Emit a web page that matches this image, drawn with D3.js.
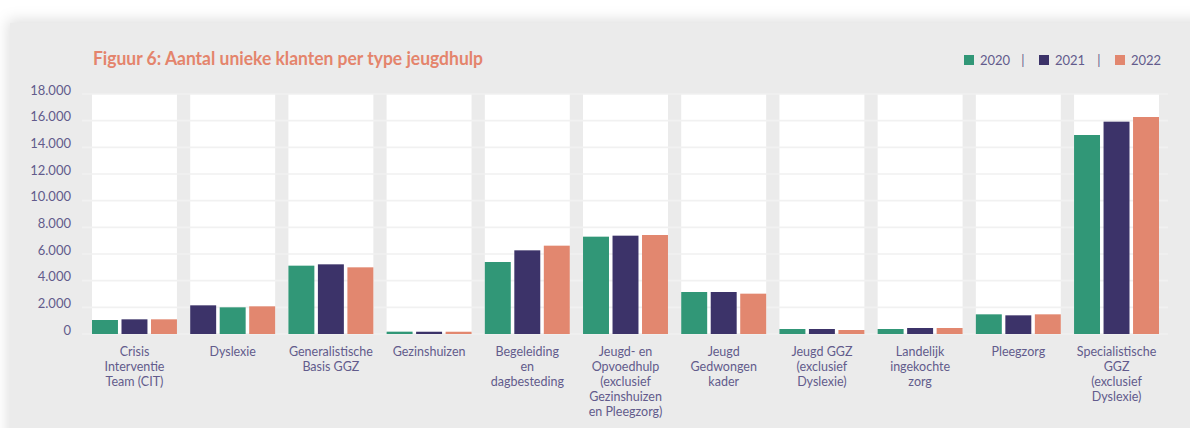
<!DOCTYPE html>
<html>
<head>
<meta charset="utf-8">
<script src="https://cdn.jsdelivr.net/npm/d3@7"></script>
<style>
  body { margin: 0; background: #ffffff; }
  svg text { font-family: Lato, "Open Sans", sans-serif; }
</style>
</head>
<body>
<div id="chart"></div>
<script>
// data
var categories = [
    "Crisis\nInterventie\nTeam (CIT)",
    "Dyslexie",
    "Generalistische\nBasis GGZ",
    "Gezinshuizen",
    "Begeleiding\nen\ndagbesteding",
    "Jeugd- en\nOpvoedhulp\n(exclusief\nGezinshuizen\nen Pleegzorg)",
    "Jeugd\nGedwongen\nkader",
    "Jeugd GGZ\n(exclusief\nDyslexie)",
    "Landelijk\ningekochte\nzorg",
    "Pleegzorg",
    "Specialistische\nGGZ\n(exclusief\nDyslexie)"
];
var years = ["2020", "2021", "2022"];
var values2020 = [1050, 2000, 5125, 175, 5400, 7300, 3150, 375, 375, 1475, 14925];
var values2021 = [1100, 2150, 5225, 170, 6275, 7375, 3150, 375, 450, 1400, 15925];
var values2022 = [1100, 2075, 5000, 170, 6625, 7425, 3025, 300, 450, 1475, 16275];
// the figure draws Dyslexie with the 2021 bar first
var barOrder = [[0,1,2],[1,0,2],[0,1,2],[0,1,2],[0,1,2],[0,1,2],[0,1,2],[0,1,2],[0,1,2],[0,1,2],[0,1,2]];
var yTicks = [0, 2000, 4000, 6000, 8000, 10000, 12000, 14000, 16000, 18000];
var colors = ["#319777", "#3c3369", "#e2876f"];

var series = [values2020, values2021, values2022];
var textColor = "#625b8c";

var width = 1190, height = 428;
var plot = { left: 92, right: 1159, top: 94, bottom: 334 };

var svg = d3.select("#chart").append("svg")
    .attr("width", width)
    .attr("height", height);

var defs = svg.append("defs");
var shadow = defs.append("filter")
    .attr("id", "shadow")
    .attr("x", "-5%").attr("y", "-20%")
    .attr("width", "110%").attr("height", "140%");
shadow.append("feDropShadow")
    .attr("dx", -2).attr("dy", -3)
    .attr("stdDeviation", 7)
    .attr("flood-color", "#000")
    .attr("flood-opacity", 0.13);

// panel
svg.append("rect")
    .attr("x", 10).attr("y", 23)
    .attr("width", width + 20).attr("height", height)
    .attr("fill", "#ebebeb")
    .attr("filter", "url(#shadow)");

var x = d3.scaleBand()
    .domain(d3.range(categories.length))
    .range([plot.left, plot.right])
    .paddingInner(0.135)
    .paddingOuter(0);

var xInner = d3.scaleBand()
    .domain([0, 1, 2])
    .range([0, x.bandwidth()])
    .paddingInner(0.12);

var y = d3.scaleLinear()
    .domain([0, 18000])
    .range([plot.bottom, plot.top]);

// white columns behind each group
svg.append("g").selectAll("rect")
    .data(categories)
    .enter()
    .append("rect")
    .attr("x", function(d, i) { return x(i); })
    .attr("y", y(18000))
    .attr("width", x.bandwidth())
    .attr("height", y(0) - y(18000))
    .attr("fill", "#ffffff");

// gridlines
svg.append("g").selectAll("line")
    .data(yTicks)
    .enter()
    .append("line")
    .attr("x1", 82)
    .attr("x2", 1168)
    .attr("y1", function(d) { return y(d); })
    .attr("y2", function(d) { return y(d); })
    .attr("stroke", "#f1f1f1")
    .attr("stroke-width", 1.6);

// y axis labels
var nl = d3.formatLocale({ decimal: ",", thousands: ".", grouping: [3], currency: ["€", ""] });
var yAxis = d3.axisLeft(y)
    .tickValues(yTicks)
    .tickSize(0)
    .tickPadding(11)
    .tickFormat(nl.format(",d"));

var yG = svg.append("g")
    .attr("transform", "translate(82,-4)")
    .call(yAxis);
yG.select(".domain").remove();
yG.selectAll("text")
    .attr("fill", textColor)
    .style("font-size", "13px")
    .style("font-family", "Lato, sans-serif");

// bars
var groups = svg.append("g").selectAll("g")
    .data(categories)
    .enter()
    .append("g")
    .attr("transform", function(d, i) { return "translate(" + x(i) + ",0)"; });

groups.selectAll("rect")
    .data(function(d, i) {
        return barOrder[i].map(function(s, pos) {
            return { pos: pos, s: s, value: series[s][i] };
        });
    })
    .enter()
    .append("rect")
    .attr("x", function(d) { return xInner(d.pos); })
    .attr("y", function(d) { return y(d.value); })
    .attr("width", xInner.bandwidth())
    .attr("height", function(d) { return y(0) - y(d.value); })
    .attr("fill", function(d) { return colors[d.s]; });

// x axis labels
var xAxis = d3.axisBottom(x)
    .tickSize(0)
    .tickFormat("");
var xG = svg.append("g")
    .attr("transform", "translate(0," + plot.bottom + ")")
    .call(xAxis);
xG.select(".domain").remove();
xG.selectAll(".tick").append("text")
    .attr("text-anchor", "middle")
    .attr("fill", textColor)
    .style("font-size", "12.5px")
    .each(function(i) {
        var lines = categories[i].split("\n");
        var t = d3.select(this);
        lines.forEach(function(line, k) {
            t.append("tspan")
                .attr("x", 0)
                .attr("y", 22 + k * 15)
                .text(line);
        });
    });

// title
svg.append("text")
    .attr("x", 93)
    .attr("y", 65)
    .attr("fill", "#e4846c")
    .attr("textLength", 390)
    .attr("lengthAdjust", "spacingAndGlyphs")
    .style("font-size", "18px")
    .style("font-weight", "bold")
    .text("Figuur 6: Aantal unieke klanten per type jeugdhulp");

// legend
var legendX = [964, 1039, 1115];
var legend = svg.append("g").selectAll("g")
    .data(years)
    .enter()
    .append("g")
    .attr("transform", function(d, i) { return "translate(" + legendX[i] + ",55)"; });
legend.append("rect")
    .attr("width", 10).attr("height", 10)
    .attr("fill", function(d, i) { return colors[i]; });
legend.append("text")
    .attr("x", 16).attr("y", 10)
    .attr("fill", textColor)
    .style("font-size", "13px")
    .text(function(d) { return d; });

svg.append("g").selectAll("text")
    .data([1023, 1099])
    .enter()
    .append("text")
    .attr("x", function(d) { return d; })
    .attr("y", 65)
    .attr("text-anchor", "middle")
    .attr("fill", textColor)
    .style("font-size", "13px")
    .text("|");
</script>
</body>
</html>
